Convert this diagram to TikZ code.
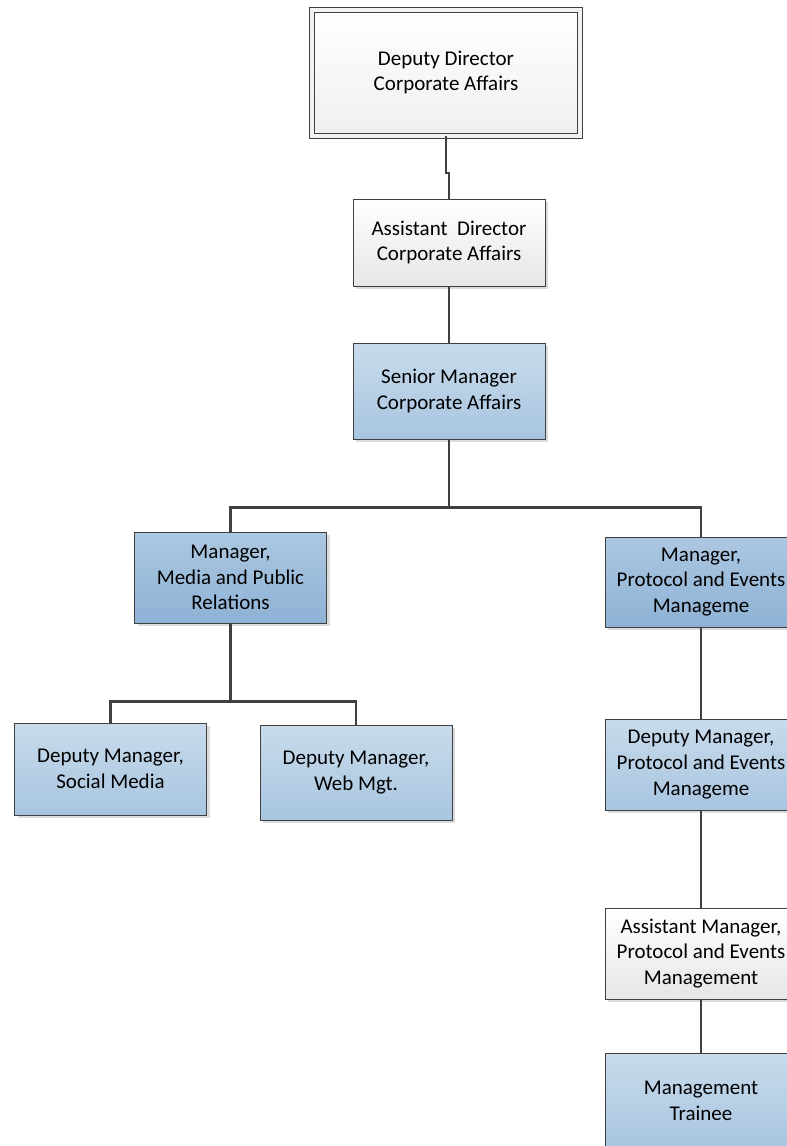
\documentclass[tikz,border=0pt]{standalone}
\usepackage{fontspec}
\setmainfont{Carlito}
\usetikzlibrary{shadows}
\definecolor{line-grey}{RGB}{64, 64, 64}
\definecolor{pale-blue-top}{RGB}{200, 219, 235}
\definecolor{pale-blue-bottom}{RGB}{168, 197, 224}
\definecolor{mid-blue-top}{RGB}{172, 199, 225}
\definecolor{mid-blue-bottom}{RGB}{142, 178, 213}
\definecolor{grey-bottom}{RGB}{230, 230, 230}

\tikzset{
  chartbox/.style={draw=line-grey, line width=1pt, align=center, inner sep=0pt,
    minimum width=192pt, minimum height=91pt, font=\fontsize{21}{25.6}\selectfont,
    drop shadow={shadow xshift=3pt, shadow yshift=-3pt, fill=black!14, opacity=1}},
  topbox/.style={draw=line-grey, line width=1pt, double=black!5, double distance=4pt,
    align=center, inner sep=0pt, font=\fontsize{21}{25.6}\selectfont,
    top color=white, bottom color=black!6},
  greybox/.style={chartbox, top color=white, bottom color=grey-bottom},
  palebox/.style={chartbox, top color=pale-blue-top, bottom color=pale-blue-bottom},
  midbox/.style={chartbox, top color=mid-blue-top, bottom color=mid-blue-bottom},
  link/.style={draw=line-grey, line width=2.4pt}
}

\begin{document}
\begin{tikzpicture}[x=1pt, y=-1pt]
\useasboundingbox (0,0) rectangle (787,1146);
\clip (0,0) rectangle (787,1146);

% top of the chart
\node[topbox, minimum width=268pt, minimum height=126pt] (dd) at (446,72.5) {Deputy Director\\Corporate Affairs};
\node[greybox, minimum height=87pt] (ad) at (449,242.5) {Assistant\ \ Director\\Corporate Affairs};
\node[palebox, minimum height=96pt] (sm) at (449,391) {Senior Manager\\Corporate Affairs};

% managers
\node[midbox] (mpr) at (230.5,577.5) {Manager,\\Media and Public\\Relations};
\node[midbox, minimum height=90pt] (pem) at (701,582) {Manager,\\Protocol and Events\\Manageme};

% media side
\node[palebox, minimum height=92pt] (dsm) at (110.5,769) {Deputy Manager,\\Social Media};
\node[palebox, minimum height=95pt] (dwm) at (356,772.5) {Deputy Manager,\\Web Mgt.};

% protocol side
\node[palebox] (dpe) at (701,764.5) {Deputy Manager,\\Protocol and Events\\Manageme};
\node[greybox] (ape) at (701,953.5) {Assistant Manager,\\Protocol and Events\\Management};
\node[palebox, minimum height=96pt] (mt) at (701,1101) {Management\\Trainee};

% connectors
\draw[link] (dd.south) -- ++(0,37) -| (ad.north);
\draw[link] (ad.south) -- (sm.north);
\draw[link] (sm.south) -- ++(0,68) coordinate (split1);
\draw[link] (mpr.north) |- (split1) -| (pem.north);
\draw[link] (mpr.south) -- ++(0,78) coordinate (split2);
\draw[link] (dsm.north) |- (split2) -| (dwm.north);
\draw[link] (pem.south) -- (dpe.north);
\draw[link] (dpe.south) -- (ape.north);
\draw[link] (ape.south) -- (mt.north);
\end{tikzpicture}
\end{document}
